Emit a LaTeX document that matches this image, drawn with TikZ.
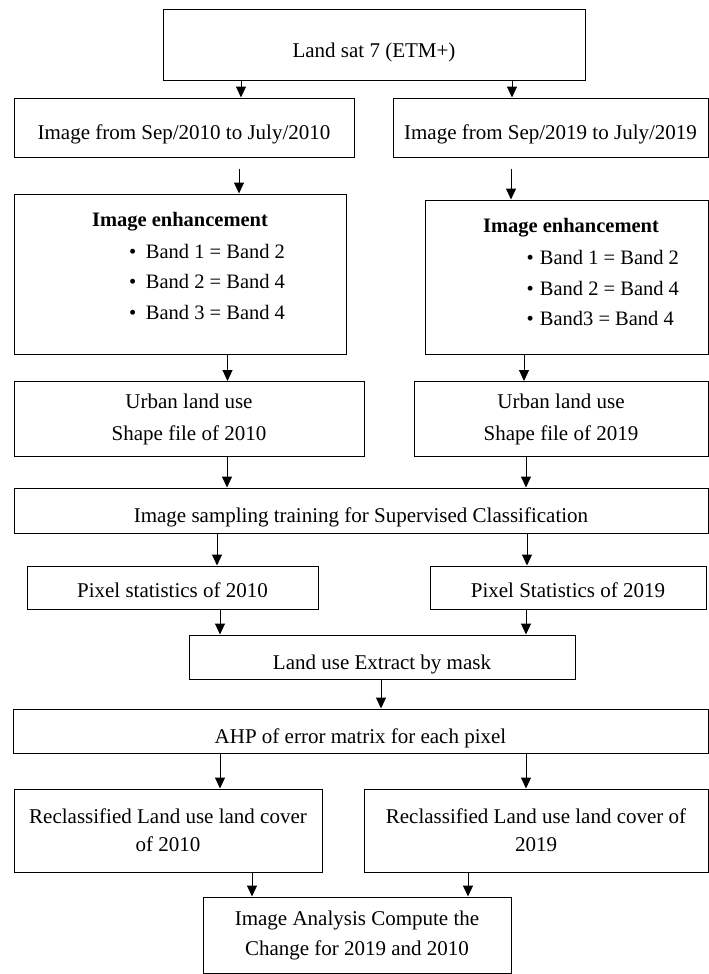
\documentclass[tikz,border=0pt]{standalone}
\usepackage{fontspec}
\setmainfont{Liberation Serif}
\usetikzlibrary{arrows.meta}

\begin{document}
\begin{tikzpicture}[
        x=1pt, y=-1pt,
        >={Triangle[length=11pt,width=10pt]},
        font=\fontsize{21}{30}\selectfont,
        caja/.style={rectangle, draw, line width=1pt, align=center, inner sep=0pt},
        bajo/.style={text height=24pt, text depth=0pt},
        flecha/.style={->, line width=1pt},
        titulo/.style={anchor=base, inner sep=0pt, font=\fontsize{20.5}{24}\selectfont\bfseries},
        vineta/.style={anchor=base west, align=left, inner sep=0pt, font=\fontsize{20.5}{30.5}\selectfont}
    ]
    \useasboundingbox (0,0) rectangle (709,974);

        % Cajas
        \node[caja, bajo, minimum width=422pt, minimum height=70pt] (landsat) at (374,45) {Land sat 7 (ETM+)};
        \node[caja, bajo, minimum width=340pt, minimum height=59pt] (img10) at (184,127.5) {Image from Sep/2010 to July/2010};
        \node[caja, bajo, minimum width=315pt, minimum height=59pt] (img19) at (550.5,127.5) {Image from Sep/2019 to July/2019};
        \node[caja, minimum width=332pt, minimum height=160pt] (enh10) at (180,274) {};
        \node[caja, minimum width=283pt, minimum height=154pt] (enh19) at (566.5,277) {};
        \node[caja, minimum width=350pt, minimum height=75pt] (urb10) at (189,419) {Urban land use\\[2pt] Shape file of 2010};
        \node[caja, minimum width=294pt, minimum height=75pt] (urb19) at (561,419) {Urban land use\\[2pt] Shape file of 2019};
        \node[caja, bajo, minimum width=694pt, minimum height=45pt] (muestreo) at (361,510.5) {Image sampling training for Supervised Classification};
        \node[caja, text height=20pt, text depth=0pt, minimum width=291pt, minimum height=43pt] (pix10) at (172.5,587.5) {Pixel statistics of 2010};
        \node[caja, text height=20pt, text depth=0pt, minimum width=276pt, minimum height=43pt] (pix19) at (568,587.5) {Pixel Statistics of 2019};
        \node[caja, bajo, minimum width=386pt, minimum height=44pt] (mascara) at (382,657) {Land use Extract by mask};
        \node[caja, bajo, minimum width=695pt, minimum height=44pt] (ahp) at (360.5,731) {AHP of error matrix for each pixel};
        \node[caja, minimum width=308pt, minimum height=83pt] (recl10) at (168,830.5) {Reclassified Land use land cover\\[-2pt] of 2010};
        \node[caja, minimum width=344pt, minimum height=83pt] (recl19) at (536,830.5) {Reclassified Land use land cover of\\[-2pt] 2019};
        \node[caja, minimum width=308pt, minimum height=76pt] (cambio) at (357,935) {Image Analysis Compute the\\ Change for 2019 and 2010};

        % Texto de realce
        \node[titulo] (enh10t) at (180,226) {Image enhancement};
        \node[vineta] (enh10b) at (129,319) {\textbullet\hspace{9.5pt}Band 1 = Band 2\\ \textbullet\hspace{9.5pt}Band 2 = Band 4\\ \textbullet\hspace{9.5pt}Band 3 = Band 4};
        \node[titulo] (enh19t) at (571,232) {Image enhancement};
        \node[vineta] (enh19b) at (526.5,325.5) {\textbullet\hspace{6pt}Band 1 = Band 2\\ \textbullet\hspace{6pt}Band 2 = Band 4\\ \textbullet\hspace{6pt}Band3 = Band 4};

        % Flechas
        \draw[flecha] (landsat.south -| 241,0) -- (img10.north -| 241,0);
        \draw[flecha] (landsat.south -| 512,0) -- (img19.north -| 512,0);
        \draw[flecha, shorten <=11pt] (img10.south -| 239,0) -- (enh10.north -| 239,0);
        \draw[flecha, shorten <=11pt] (img19.south -| 511,0) -- (enh19.north -| 511,0);
        \draw[flecha] (enh10.south -| 227.5,0) -- (urb10.north -| 227.5,0);
        \draw[flecha] (enh19.south -| 524,0) -- (urb19.north -| 524,0);
        \draw[flecha] (urb10.south -| 227,0) -- (muestreo.north -| 227,0);
        \draw[flecha] (urb19.south -| 526,0) -- (muestreo.north -| 526,0);
        \draw[flecha] (muestreo.south -| 217,0) -- (pix10.north -| 217,0);
        \draw[flecha] (muestreo.south -| 527,0) -- (pix19.north -| 527,0);
        \draw[flecha] (pix10.south -| 220,0) -- (mascara.north -| 220,0);
        \draw[flecha] (pix19.south -| 526,0) -- (mascara.north -| 526,0);
        \draw[flecha] (mascara.south -| 381,0) -- (ahp.north -| 381,0);
        \draw[flecha] (ahp.south -| 220,0) -- (recl10.north -| 220,0);
        \draw[flecha] (ahp.south -| 526,0) -- (recl19.north -| 526,0);
        \draw[flecha] (recl10.south -| 252,0) -- (cambio.north -| 252,0);
        \draw[flecha] (recl19.south -| 468,0) -- (cambio.north -| 468,0);

    \end{tikzpicture}
\end{document}
